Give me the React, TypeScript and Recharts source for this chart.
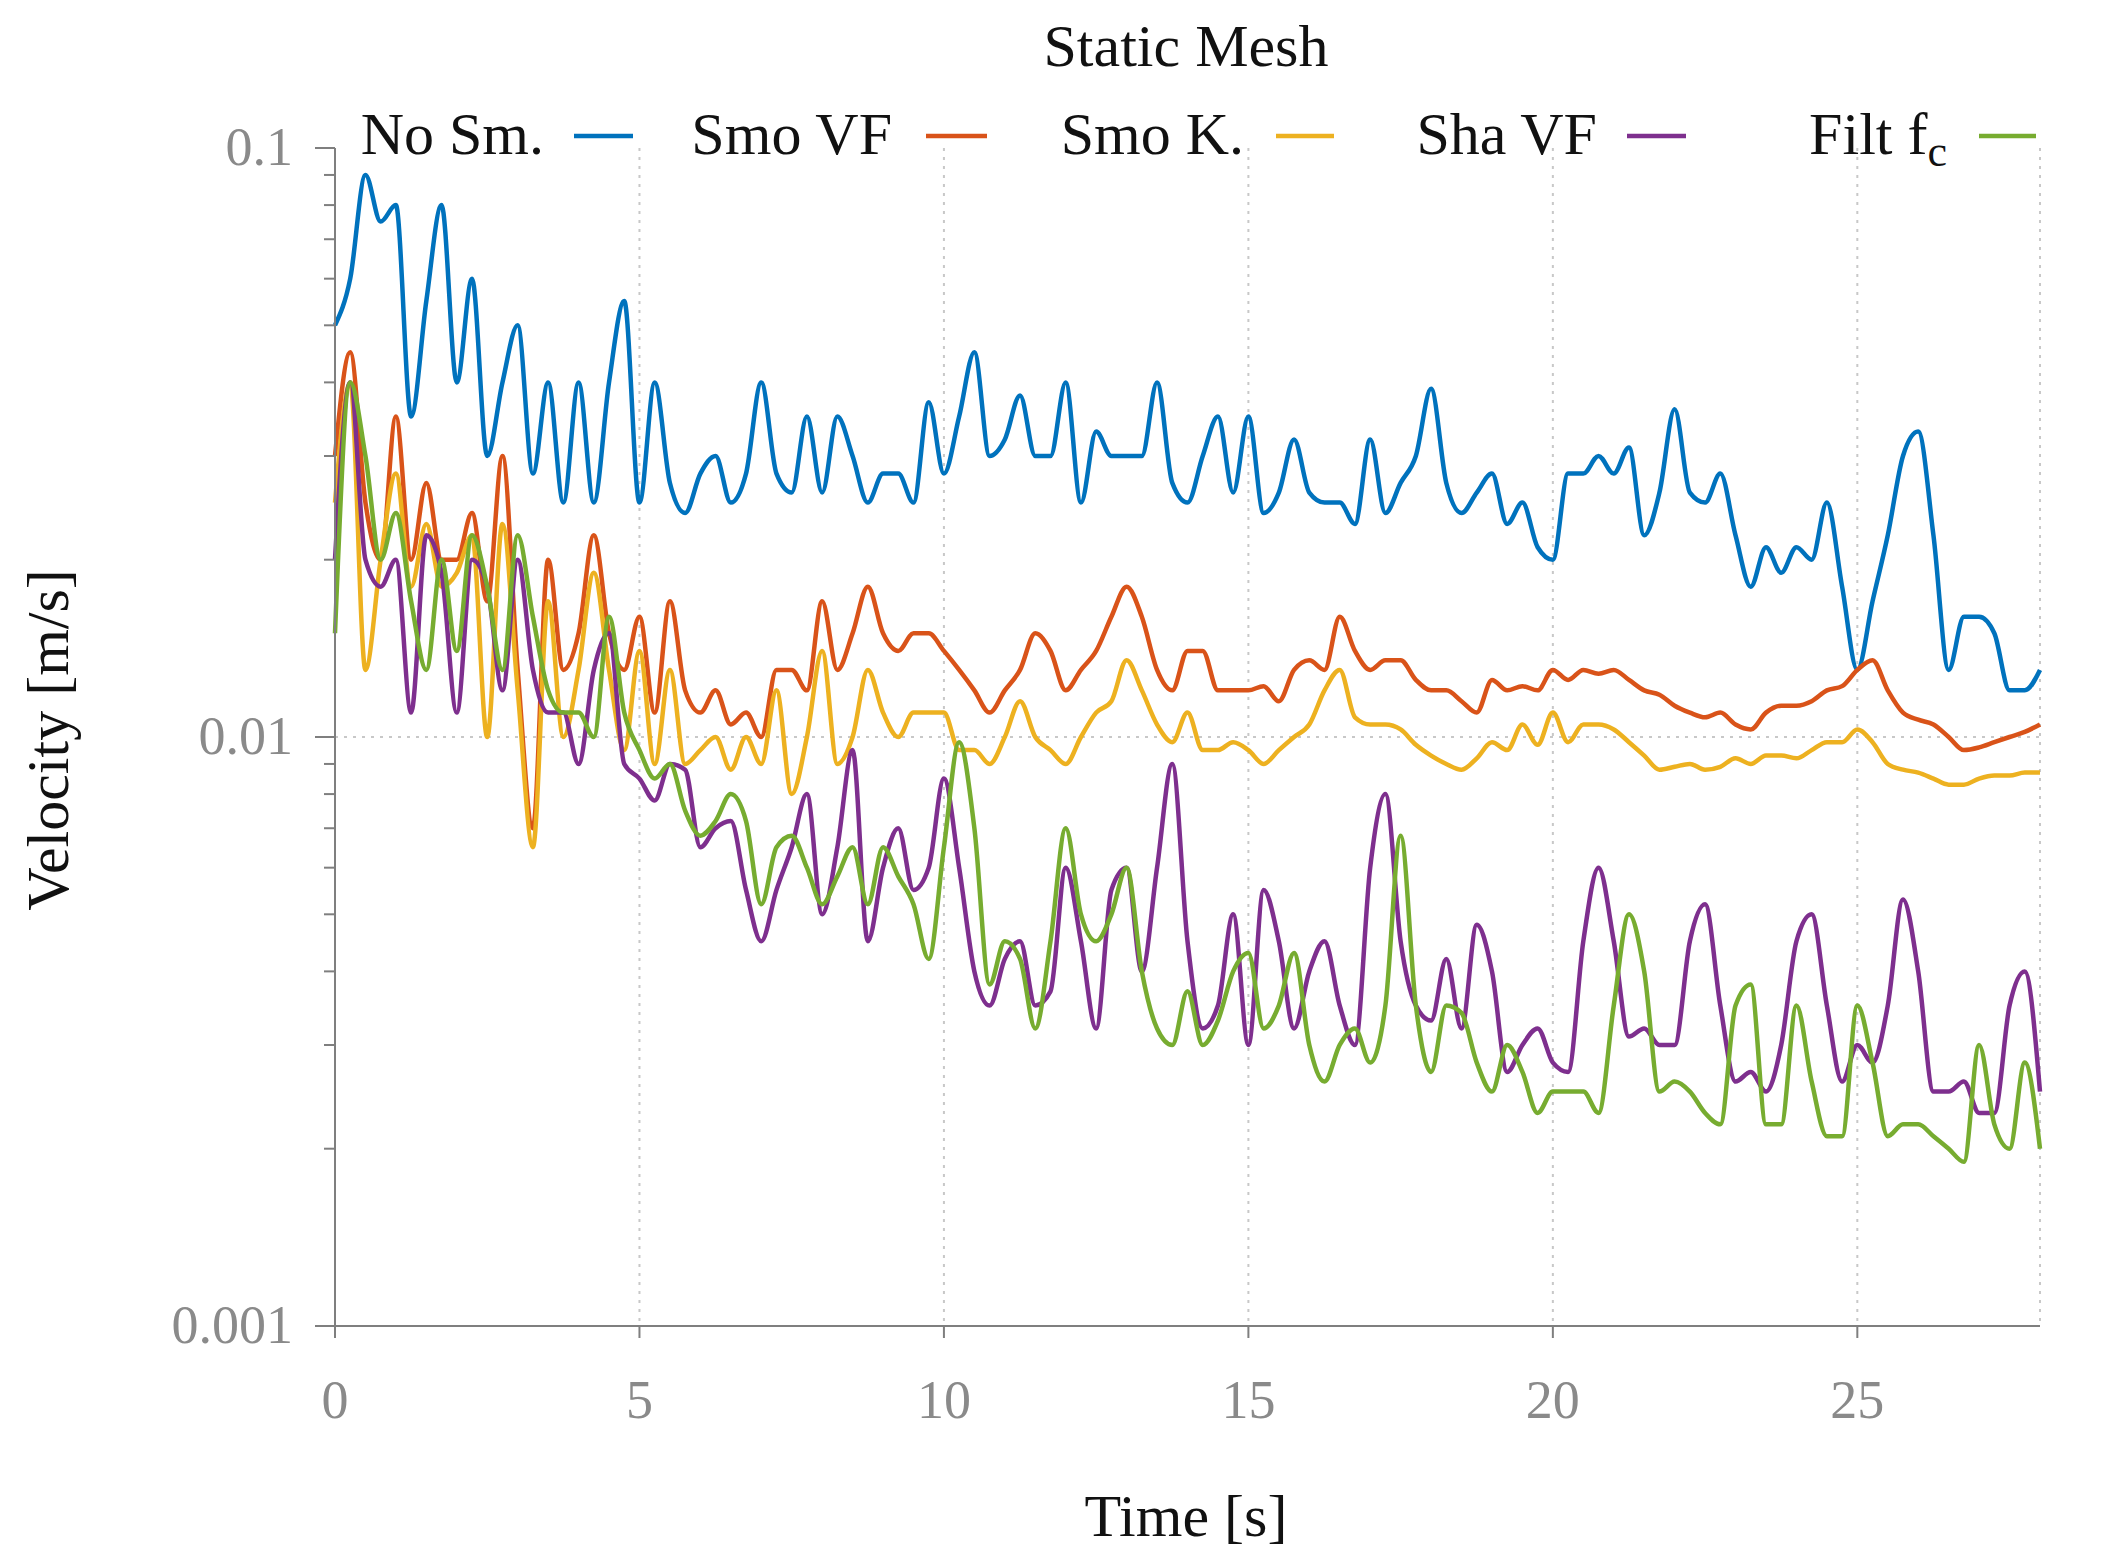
import { LineChart, Line, XAxis, YAxis, CartesianGrid, ReferenceLine } from 'recharts'

const times = Array.from({ length: 113 }, (_, i) => i * 0.25)

const noSmooth = [
  0.05, 0.06, 0.09, 0.075, 0.08, 0.035, 0.055, 0.08, 0.04, 0.06, 0.03, 0.04, 0.05, 0.028, 0.04, 0.025,
  0.04, 0.025, 0.04, 0.055, 0.025, 0.04, 0.027, 0.024, 0.028, 0.03, 0.025, 0.028, 0.04, 0.028, 0.026, 0.035,
  0.026, 0.035, 0.03, 0.025, 0.028, 0.028, 0.025, 0.037, 0.028, 0.035, 0.045, 0.03, 0.032, 0.038, 0.03, 0.03,
  0.04, 0.025, 0.033, 0.03, 0.03, 0.03, 0.04, 0.027, 0.025, 0.03, 0.035, 0.026, 0.035, 0.024, 0.026, 0.032,
  0.026, 0.025, 0.025, 0.023, 0.032, 0.024, 0.027, 0.03, 0.039, 0.027, 0.024, 0.026, 0.028, 0.023, 0.025, 0.021,
  0.02, 0.028, 0.028, 0.03, 0.028, 0.031, 0.022, 0.026, 0.036, 0.026, 0.025, 0.028, 0.022, 0.018, 0.021, 0.019,
  0.021, 0.02, 0.025, 0.018, 0.013, 0.017, 0.022, 0.03, 0.033, 0.022, 0.013, 0.016, 0.016, 0.015, 0.012, 0.012,
  0.013,
]

const smoothVF = [
  0.03, 0.045, 0.025, 0.02, 0.035, 0.02, 0.027, 0.02, 0.02, 0.024, 0.017, 0.03, 0.013, 0.007, 0.02, 0.013,
  0.015, 0.022, 0.015, 0.013, 0.016, 0.011, 0.017, 0.012, 0.011, 0.012, 0.0105, 0.011, 0.01, 0.013, 0.013, 0.012,
  0.017, 0.013, 0.015, 0.018, 0.015, 0.014, 0.015, 0.015, 0.014, 0.013, 0.012, 0.011, 0.012, 0.013, 0.015, 0.014,
  0.012, 0.013, 0.014, 0.016, 0.018, 0.016, 0.013, 0.012, 0.014, 0.014, 0.012, 0.012, 0.012, 0.0122, 0.0115, 0.013,
  0.0135, 0.013, 0.016, 0.014, 0.013, 0.0135, 0.0135, 0.0125, 0.012, 0.012, 0.0115, 0.011, 0.0125, 0.012, 0.0122, 0.012,
  0.013, 0.0125, 0.013, 0.0128, 0.013, 0.0125, 0.012, 0.0118, 0.0113, 0.011, 0.0108, 0.011, 0.0105, 0.0103, 0.011, 0.0113,
  0.0113, 0.0115, 0.012, 0.0122, 0.013, 0.0135, 0.012, 0.011, 0.0107, 0.0105, 0.01, 0.0095, 0.0096, 0.0098, 0.01, 0.0102,
  0.0105,
]

const smoothK = [
  0.025, 0.04, 0.013, 0.02, 0.028, 0.018, 0.023, 0.018, 0.019, 0.022, 0.01, 0.023, 0.012, 0.0065, 0.017, 0.01,
  0.013, 0.019, 0.013, 0.0095, 0.014, 0.009, 0.013, 0.009, 0.0095, 0.01, 0.0088, 0.01, 0.009, 0.012, 0.008, 0.01,
  0.014, 0.009, 0.01, 0.013, 0.011, 0.01, 0.011, 0.011, 0.011, 0.0095, 0.0095, 0.009, 0.01, 0.0115, 0.01, 0.0095,
  0.009, 0.01, 0.011, 0.0115, 0.0135, 0.012, 0.0105, 0.0098, 0.011, 0.0095, 0.0095, 0.0098, 0.0095, 0.009, 0.0095, 0.01,
  0.0105, 0.012, 0.013, 0.0108, 0.0105, 0.0105, 0.0103, 0.0097, 0.0093, 0.009, 0.0088, 0.0092, 0.0098, 0.0095, 0.0105, 0.0097,
  0.011, 0.0098, 0.0105, 0.0105, 0.0103, 0.0098, 0.0093, 0.0088, 0.0089, 0.009, 0.0088, 0.0089, 0.0092, 0.009, 0.0093, 0.0093,
  0.0092, 0.0095, 0.0098, 0.0098, 0.0103, 0.0098, 0.009, 0.0088, 0.0087, 0.0085, 0.0083, 0.0083, 0.0085, 0.0086, 0.0086, 0.0087,
  0.0087,
]

const sharpVF = [
  0.02, 0.04, 0.02, 0.018, 0.02, 0.011, 0.022, 0.019, 0.011, 0.02, 0.018, 0.012, 0.02, 0.013, 0.011, 0.011,
  0.009, 0.013, 0.015, 0.009, 0.0085, 0.0078, 0.009, 0.0088, 0.0065, 0.007, 0.0072, 0.0055, 0.0045, 0.0055, 0.0065, 0.008,
  0.005, 0.0065, 0.0095, 0.0045, 0.006, 0.007, 0.0055, 0.006, 0.0085, 0.006, 0.004, 0.0035, 0.0042, 0.0045, 0.0035, 0.0037,
  0.006, 0.0045, 0.0032, 0.0055, 0.006, 0.004, 0.006, 0.009, 0.0045, 0.0032, 0.0035, 0.005, 0.003, 0.0055, 0.0045, 0.0032,
  0.004, 0.0045, 0.0035, 0.003, 0.006, 0.008, 0.0045, 0.0035, 0.0033, 0.0042, 0.0032, 0.0048, 0.004, 0.0027, 0.003, 0.0032,
  0.0028, 0.0027, 0.0045, 0.006, 0.0045, 0.0031, 0.0032, 0.003, 0.003, 0.0045, 0.0052, 0.0035, 0.0026, 0.0027, 0.0025, 0.003,
  0.0045, 0.005, 0.0035, 0.0026, 0.003, 0.0028, 0.0035, 0.0053, 0.004, 0.0025, 0.0025, 0.0026, 0.0023, 0.0023, 0.0035, 0.004,
  0.0025,
]

const filtFc = [
  0.015, 0.04, 0.03, 0.02, 0.024, 0.017, 0.013, 0.02, 0.014, 0.022, 0.018, 0.013, 0.022, 0.016, 0.012, 0.011,
  0.011, 0.01, 0.016, 0.011, 0.0095, 0.0085, 0.009, 0.0075, 0.0068, 0.0072, 0.008, 0.0072, 0.0052, 0.0065, 0.0068, 0.006,
  0.0052, 0.0058, 0.0065, 0.0052, 0.0065, 0.0058, 0.0052, 0.0042, 0.0065, 0.0098, 0.007, 0.0038, 0.0045, 0.0042, 0.0032, 0.0045,
  0.007, 0.005, 0.0045, 0.005, 0.006, 0.004, 0.0032, 0.003, 0.0037, 0.003, 0.0033, 0.004, 0.0043, 0.0032, 0.0035, 0.0043,
  0.003, 0.0026, 0.003, 0.0032, 0.0028, 0.0035, 0.0068, 0.0035, 0.0027, 0.0035, 0.0034, 0.0028, 0.0025, 0.003, 0.0027, 0.0023,
  0.0025, 0.0025, 0.0025, 0.0023, 0.0035, 0.005, 0.004, 0.0025, 0.0026, 0.0025, 0.0023, 0.0022, 0.0035, 0.0038, 0.0022, 0.0022,
  0.0035, 0.0026, 0.0021, 0.0021, 0.0035, 0.0028, 0.0021, 0.0022, 0.0022, 0.0021, 0.002, 0.0019, 0.003, 0.0022, 0.002, 0.0028,
  0.002,
]

const xTicks = [0, 5, 10, 15, 20, 25]
const yMajor = [0.001, 0.01, 0.1]
const yTicks = [0.001, 0.002, 0.003, 0.004, 0.005, 0.006, 0.007, 0.008, 0.009, 0.01, 0.02, 0.03, 0.04, 0.05, 0.06, 0.07, 0.08, 0.09, 0.1]

const series = [
  { key: 'noSm', name: 'No Sm.', color: '#0072bd', values: noSmooth },
  { key: 'smoVF', name: 'Smo VF', color: '#d95319', values: smoothVF },
  { key: 'smoK', name: 'Smo K.', color: '#edb120', values: smoothK },
  { key: 'shaVF', name: 'Sha VF', color: '#7e2f8e', values: sharpVF },
  { key: 'filt', name: 'Filt f', color: '#77ac30', values: filtFc },
]

const data = times.map((t, i) => {
  const row: Record<string, number> = { t }
  series.forEach((s) => (row[s.key] = s.values[i]))
  return row
})

const font = '"Liberation Serif", serif'
const axisGray = '#7f7f7f'

function YTick(props: any) {
  const { x, y, payload } = props
  const major = yMajor.some((v) => Math.abs(v - payload.value) < 1e-9)
  return (
    <g>
      <line x1={x} x2={x - (major ? 20 : 11)} y1={y} y2={y} stroke={axisGray} strokeWidth={2} />
      {major && (
        <text x={x - 42} y={y} dy={17} textAnchor="end" fill="#8a8a8a" fontSize={54} fontFamily={font}>
          {String(payload.value)}
        </text>
      )}
    </g>
  )
}

// legend right-ends of labels and line spans, in page pixels
const legendPos = [
  { textEnd: 544, x1: 574, x2: 633 },
  { textEnd: 892, x1: 926, x2: 987 },
  { textEnd: 1244, x1: 1276, x2: 1334 },
  { textEnd: 1597, x1: 1627, x2: 1686 },
  { textEnd: 1947, x1: 1979, x2: 2036 },
]

export default function App() {
  return (
    <div style={{ position: 'absolute', left: 0, top: 0, width: 2110, height: 1564, background: '#fff' }}>
      <LineChart width={2110} height={1564} data={data} margin={{ top: 148, right: 70, bottom: 138, left: 135 }}>
        <CartesianGrid horizontal={false} stroke="#c8c8c8" strokeDasharray="3 6" strokeWidth={2} />
        <ReferenceLine y={0.01} stroke="#c8c8c8" strokeDasharray="3 6" strokeWidth={2} />
        <XAxis
          dataKey="t"
          type="number"
          domain={[0, 28]}
          ticks={xTicks}
          stroke={axisGray}
          strokeWidth={2}
          tickSize={12}
          tickMargin={42}
          height={100}
          tick={{ fill: '#8a8a8a', fontSize: 54, fontFamily: font }}
        />
        <YAxis
          scale="log"
          domain={[0.001, 0.1]}
          allowDataOverflow
          ticks={yTicks}
          interval={0}
          width={200}
          stroke={axisGray}
          strokeWidth={2}
          tickLine={false}
          tickSize={0}
          tickMargin={0}
          tick={<YTick />}
        />
        {series.map((s) => (
          <Line
            key={s.key}
            dataKey={s.key}
            type="monotone"
            stroke={s.color}
            strokeWidth={4.5}
            dot={false}
            isAnimationActive={false}
          />
        ))}
      </LineChart>
      <svg width={2110} height={1564} style={{ position: 'absolute', left: 0, top: 0, pointerEvents: 'none' }}>
        <g fontFamily={font} fill="#111">
          <text x={1186} y={66} textAnchor="middle" fontSize={60}>Static Mesh</text>
          {series.map((s, i) => (
            <g key={s.key}>
              <text x={legendPos[i].textEnd} y={154} textAnchor="end" fontSize={60}>
                {s.name}
                {s.key === 'filt' && <tspan fontSize={44} dy={12}>c</tspan>}
              </text>
              <line x1={legendPos[i].x1} x2={legendPos[i].x2} y1={136} y2={136} stroke={s.color} strokeWidth={4.5} />
            </g>
          ))}
          <text x={1186} y={1536} textAnchor="middle" fontSize={60}>Time [s]</text>
          <text x={68} y={740} textAnchor="middle" fontSize={60} transform="rotate(-90 68 740)">Velocity [m/s]</text>
        </g>
      </svg>
    </div>
  )
}
